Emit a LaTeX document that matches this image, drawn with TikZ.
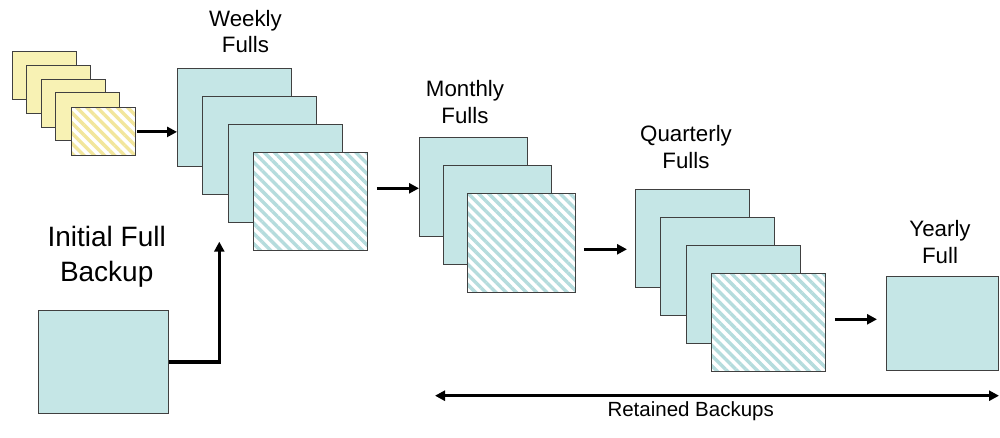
\documentclass[tikz,border=0pt]{standalone}
\usepackage{fontspec}
\setmainfont{Liberation Sans}
\usetikzlibrary{arrows.meta,patterns.meta,calc}

\definecolor{tealfill}{HTML}{C5E6E6}
\definecolor{tealline}{HTML}{B5DCDD}
\definecolor{yelfill}{HTML}{F8F2B4}
\definecolor{yelline}{HTML}{F2E69C}
\definecolor{edge}{HTML}{404040}

\tikzset{
  card/.style={draw=edge, line width=0.9pt, inner sep=0pt, anchor=north west},
  tealcard/.style={card, fill=tealfill},
  tealhatch/.style={card, preaction={fill=white},
    pattern={Lines[angle=-45, distance=7.2pt, line width=3.4pt]}, pattern color=tealline},
  yelcard/.style={card, fill=yelfill, minimum width=64pt, minimum height=48pt},
  yelhatch/.style={card, minimum width=64pt, minimum height=48pt, preaction={fill=white},
    pattern={Lines[angle=-45, distance=7.2pt, line width=3.4pt]}, pattern color=yelline},
  wk/.style={minimum width=114pt, minimum height=98pt},
  mo/.style={minimum width=108pt, minimum height=99pt},
  tip/.tip={Triangle[length=10pt, width=10pt]},
  flow/.style={line width=3.2pt, -tip},
  span/.style={line width=3.2pt, tip-tip},
  caption/.style={anchor=base, align=center, inner sep=0pt,
    font=\fontsize{22.3}{26.8}\selectfont},
}

\begin{document}
\begin{tikzpicture}[x=1pt, y=-1pt]
\useasboundingbox (0,0) rectangle (1000,438);

% incremental backups (yellow stack)
\node[yelcard]  (y1) at (12,51)     {};
\node[yelcard]  (y2) at (26.4,64.8) {};
\node[yelcard]  (y3) at (40.8,78.6) {};
\node[yelcard]  (y4) at (55.2,92.4) {};
\node[yelhatch] (y5) at (69.6,106.2) {};

% weekly fulls
\node[tealcard, wk]  (w1) at (177,68)    {};
\node[tealcard, wk]  (w2) at (202.3,96)  {};
\node[tealcard, wk]  (w3) at (227.6,124) {};
\node[tealhatch, wk] (w4) at (253,152)   {};

% monthly fulls
\node[tealcard, mo]  (m1) at (419,137) {};
\node[tealcard, mo]  (m2) at (443,165) {};
\node[tealhatch, mo] (m3) at (467,193) {};

% quarterly fulls
\node[tealcard, wk]  (q1) at (635,189)   {};
\node[tealcard, wk]  (q2) at (660.3,217) {};
\node[tealcard, wk]  (q3) at (685.6,245) {};
\node[tealhatch, wk] (q4) at (711,273)   {};

% yearly full
\node[tealcard, minimum width=112pt, minimum height=94pt] (yr) at (886,276) {};

% initial full backup
\node[tealcard, minimum width=130pt, minimum height=103pt] (init) at (38,310) {};

% captions (anchored on the baseline of their last line)
\node[caption] (wl) at (245.5,53)   {Weekly\\Fulls};
\node[caption] (ml) at (465,123.5)  {Monthly\\Fulls};
\node[caption] (ql) at (686,168.5)  {Quarterly\\Fulls};
\node[caption] (yl) at (940,263.3)  {Yearly\\Full};
\node[caption, font=\fontsize{28}{35}\selectfont] (il) at (106.7,281.7) {Initial Full\\Backup};
\node[caption, font=\fontsize{20.5}{24}\selectfont] (rl) at (690.7,416) {Retained Backups};

% flow between the stages
\coordinate (wm) at (0,188.3);
\coordinate (mq) at (0,249.3);
\coordinate (qy) at (0,319.3);
\coordinate (up) at (219.3,241.7);
\coordinate (rleft) at (435,395.7);
\coordinate (rright) at (999,395.7);

\draw[flow] (y5.east) -- (y5.east -| w1.west);
\draw[flow] ([xshift=9pt]w4.east |- wm) -- (m1.west |- wm);
\draw[flow] ([xshift=8pt]m3.east |- mq) -- ([xshift=-8pt]q1.west |- mq);
\draw[flow] ([xshift=9pt]q4.east |- qy) -- ([xshift=-9pt]yr.west |- qy);
\draw[flow] (init.east) -| (up);
\draw[span] (rleft) -- (rright);
\end{tikzpicture}
\end{document}
